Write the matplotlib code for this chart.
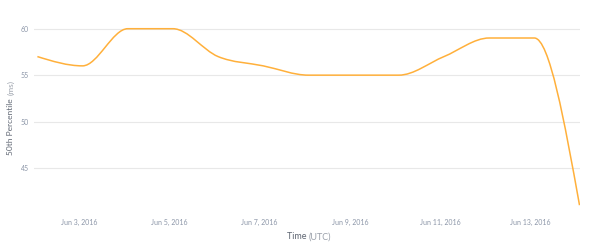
import numpy as np
import matplotlib
matplotlib.use('Agg')
import matplotlib.pyplot as plt
import matplotlib.dates as mdates
from matplotlib.path import Path
from matplotlib.patches import PathPatch
from datetime import datetime, timedelta

# Daily 50th percentile samples (ms)
dates = [datetime(2016, 6, 2, 2) + timedelta(days=i) for i in range(13)]
p50 = [57, 56, 60, 60, 57, 56, 55, 55, 55, 57, 59, 59, 41]
tick_dates = [datetime(2016, 6, d) for d in (3, 5, 7, 9, 11, 13)]
tick_labels = ['Jun %d, 2016' % d.day for d in tick_dates]
y_ticks = [45, 50, 55, 60]

line_color = '#ffb03b'
grid_color = '#e8e8e8'
tick_color = '#8c96a8'


def monotone_path(x, y):
    ''' Cubic bezier path with monotone-x tangents (same as d3 curveMonotoneX)
    '''
    x = np.asarray(x, dtype=float)
    y = np.asarray(y, dtype=float)
    n = len(x)
    t = np.zeros(n)
    for i in range(1, n - 1):
        h0, h1 = x[i] - x[i - 1], x[i + 1] - x[i]
        s0, s1 = (y[i] - y[i - 1]) / h0, (y[i + 1] - y[i]) / h1
        p = (s0 * h1 + s1 * h0) / (h0 + h1)
        t[i] = (np.sign(s0) + np.sign(s1)) * min(abs(s0), abs(s1), 0.5 * abs(p))
    t[0] = (3 * (y[1] - y[0]) / (x[1] - x[0]) - t[1]) / 2
    t[-1] = (3 * (y[-1] - y[-2]) / (x[-1] - x[-2]) - t[-2]) / 2
    verts = [(x[0], y[0])]
    codes = [Path.MOVETO]
    for i in range(n - 1):
        dx = (x[i + 1] - x[i]) / 3
        verts += [(x[i] + dx, y[i] + dx * t[i]),
                  (x[i + 1] - dx, y[i + 1] - dx * t[i + 1]),
                  (x[i + 1], y[i + 1])]
        codes += [Path.CURVE4] * 3
    return Path(verts, codes)


fig = plt.figure(figsize=(5.9, 2.48), dpi=100)
ax = fig.add_axes([0.058, 0.161, 0.925, 0.80])

xnum = mdates.date2num(dates)
ax.add_patch(PathPatch(monotone_path(xnum, p50), fill=False, edgecolor=line_color, lw=1.1))

ax.set_xlim(xnum[0] - 0.07, xnum[-1] + 0.01)
ax.set_ylim(40.69, 62.05)

ax.set_yticks(y_ticks)
ax.set_yticklabels([str(v) for v in y_ticks])
ax.set_xticks(mdates.date2num(tick_dates))
ax.set_xticklabels(tick_labels)
ax.tick_params(axis='both', length=0, labelsize=5, labelcolor=tick_color, pad=4)
ax.tick_params(axis='x', pad=8)
for lbl in ax.get_xticklabels() + ax.get_yticklabels():
    lbl.set_family('Lato')

for v in y_ticks:
    ax.axhline(v, color=grid_color, lw=0.8, zorder=0)

for s in ax.spines.values():
    s.set_visible(False)

fig.text(0.018, 0.605, '50th Percentile', rotation=90, ha='center', va='top',
         fontsize=6, color='#5f6673', family='Lato')
fig.text(0.018, 0.615, '(ms)', rotation=90, ha='center', va='bottom',
         fontsize=6, color='#9aa0aa', family='Lato')
fig.text(0.523, 0.045, 'Time ', ha='right', va='center',
         fontsize=6.5, color='#5f6673', family='Lato')
fig.text(0.523, 0.045, '(UTC)', ha='left', va='center',
         fontsize=6.5, color='#9aa0aa', family='Lato')

fig.savefig('out.png', dpi=100)
